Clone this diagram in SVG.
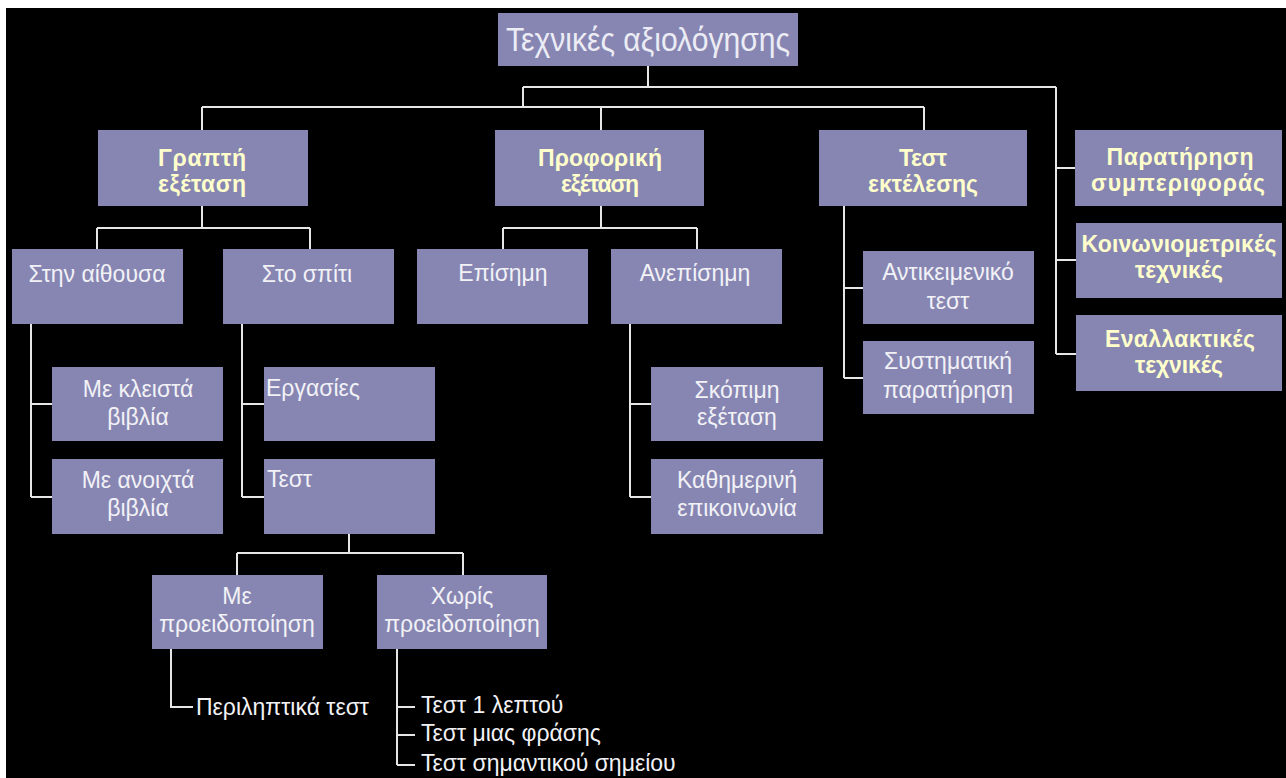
<svg xmlns="http://www.w3.org/2000/svg" width="1286" height="778" viewBox="0 0 1286 778">
<style>
.bx{fill:#8786B3}
.t{font-family:"Liberation Sans",Arial,sans-serif;font-size:23px;fill:#F2F2F6;text-anchor:middle}
.l{text-anchor:start}
.b{font-family:"Liberation Sans",Arial,sans-serif;font-size:23px;font-weight:bold;fill:#FFFFCC;text-anchor:middle}
.r{font-family:"Liberation Sans",Arial,sans-serif;font-size:34px;fill:#ECECF4;text-anchor:middle}
#connectors path{fill:none;stroke:#E6E6E6;stroke-width:2}
</style>
<rect x="0" y="0" width="1286" height="778" fill="#FFFFFF"/>
<rect x="6" y="8" width="1280" height="770" fill="#000000"/>

<g id="connectors">
<path d="M648,66V87M523,87H1056M523,87V107M202,107H924M202,107V130M601,107V130M924,107V130"/>
<path d="M1056,87V354M1056,168H1075M1056,260H1076M1056,354H1076"/>
<path d="M202,206V228M97,228H310M97,228V249M310,228V249"/>
<path d="M31,324V497M31,404H52M31,497H52"/>
<path d="M242,324V497M242,404H264M242,497H264"/>
<path d="M601,206V228M503,228H697M503,228V249M697,228V249"/>
<path d="M630,324V497M630,404H651M630,497H651"/>
<path d="M844,206V378M844,288H863M844,378H863"/>
<path d="M349,534V553M237,553H463M237,553V575M463,553V575"/>
<path d="M171,649V707H193"/>
<path d="M397,649V765M397,707H415M397,735H415M397,765H415"/>
</g>

<g id="root"><rect class="bx" x="498" y="13" width="300" height="53"/><text class="r" x="648" y="51" textLength="284" lengthAdjust="spacingAndGlyphs">Τεχνικές αξιολόγησης</text></g>

<g id="grapti"><rect class="bx" x="98" y="130" width="210" height="76"/><text class="b" x="202" y="166" textLength="88">Γραπτή</text><text class="b" x="202" y="192" textLength="88">εξέταση</text></g>
<g id="proforiki"><rect class="bx" x="495" y="130" width="209" height="76"/><text class="b" x="600" y="166" textLength="124">Προφορική</text><text class="b" x="600" y="192" textLength="78">εξέταση</text></g>
<g id="test-ektelesis"><rect class="bx" x="819" y="130" width="208" height="76"/><text class="b" x="923" y="166" textLength="48">Τεστ</text><text class="b" x="923" y="192" textLength="110">εκτέλεσης</text></g>
<g id="paratirisi"><rect class="bx" x="1075" y="130" width="207" height="76"/><text class="b" x="1180" y="165" textLength="147">Παρατήρηση</text><text class="b" x="1178" y="191" textLength="174">συμπεριφοράς</text></g>
<g id="koinoniometrikes"><rect class="bx" x="1076" y="223" width="206" height="75"/><text class="b" x="1179" y="252" textLength="195">Κοινωνιομετρικές</text><text class="b" x="1179" y="278" textLength="88">τεχνικές</text></g>
<g id="enallaktikes"><rect class="bx" x="1076" y="315" width="206" height="76"/><text class="b" x="1180" y="347" textLength="150">Εναλλακτικές</text><text class="b" x="1179" y="373" textLength="88">τεχνικές</text></g>

<g id="aithousa"><rect class="bx" x="12" y="249" width="171" height="75"/><text class="t" x="97" y="282">Στην αίθουσα</text></g>
<g id="spiti"><rect class="bx" x="223" y="249" width="171" height="75"/><text class="t" x="307" y="282">Στο σπίτι</text></g>
<g id="episimi"><rect class="bx" x="417" y="249" width="171" height="75"/><text class="t" x="503" y="281">Επίσημη</text></g>
<g id="anepisimi"><rect class="bx" x="611" y="249" width="171" height="75"/><text class="t" x="695" y="281">Ανεπίσημη</text></g>

<g id="kleista"><rect class="bx" x="52" y="367" width="171" height="74"/><text class="t" x="138" y="397">Με κλειστά</text><text class="t" x="138" y="425">βιβλία</text></g>
<g id="anoixta"><rect class="bx" x="52" y="459" width="171" height="75"/><text class="t" x="138" y="488">Με ανοιχτά</text><text class="t" x="138" y="516">βιβλία</text></g>
<g id="ergasies"><rect class="bx" x="264" y="367" width="171" height="74"/><text class="t l" x="266" y="396">Εργασίες</text></g>
<g id="test"><rect class="bx" x="264" y="459" width="171" height="75"/><text class="t l" x="267" y="487">Τεστ</text></g>
<g id="skopimi"><rect class="bx" x="651" y="367" width="172" height="74"/><text class="t" x="737" y="398">Σκόπιμη</text><text class="t" x="737" y="425">εξέταση</text></g>
<g id="kathimerini"><rect class="bx" x="651" y="459" width="172" height="75"/><text class="t" x="737" y="488">Καθημερινή</text><text class="t" x="737" y="516">επικοινωνία</text></g>
<g id="antikeimeniko"><rect class="bx" x="863" y="251" width="171" height="73"/><text class="t" x="948" y="280">Αντικειμενικό</text><text class="t" x="948" y="309">τεστ</text></g>
<g id="systimatiki"><rect class="bx" x="863" y="341" width="171" height="73"/><text class="t" x="948" y="369">Συστηματική</text><text class="t" x="948" y="398">παρατήρηση</text></g>

<g id="me-proeid"><rect class="bx" x="152" y="575" width="171" height="74"/><text class="t" x="237" y="604">Με</text><text class="t" x="237" y="632">προειδοποίηση</text></g>
<g id="xoris-proeid"><rect class="bx" x="377" y="575" width="170" height="74"/><text class="t" x="462" y="604">Χωρίς</text><text class="t" x="462" y="632">προειδοποίηση</text></g>

<g id="perilitika"><text class="t l" x="196" y="715">Περιληπτικά τεστ</text></g>
<g id="test-1"><text class="t l" x="421" y="713">Τεστ 1 λεπτού</text></g>
<g id="test-frasis"><text class="t l" x="421" y="741">Τεστ μιας φράσης</text></g>
<g id="test-simeiou"><text class="t l" x="421" y="771">Τεστ σημαντικού σημείου</text></g>
</svg>
